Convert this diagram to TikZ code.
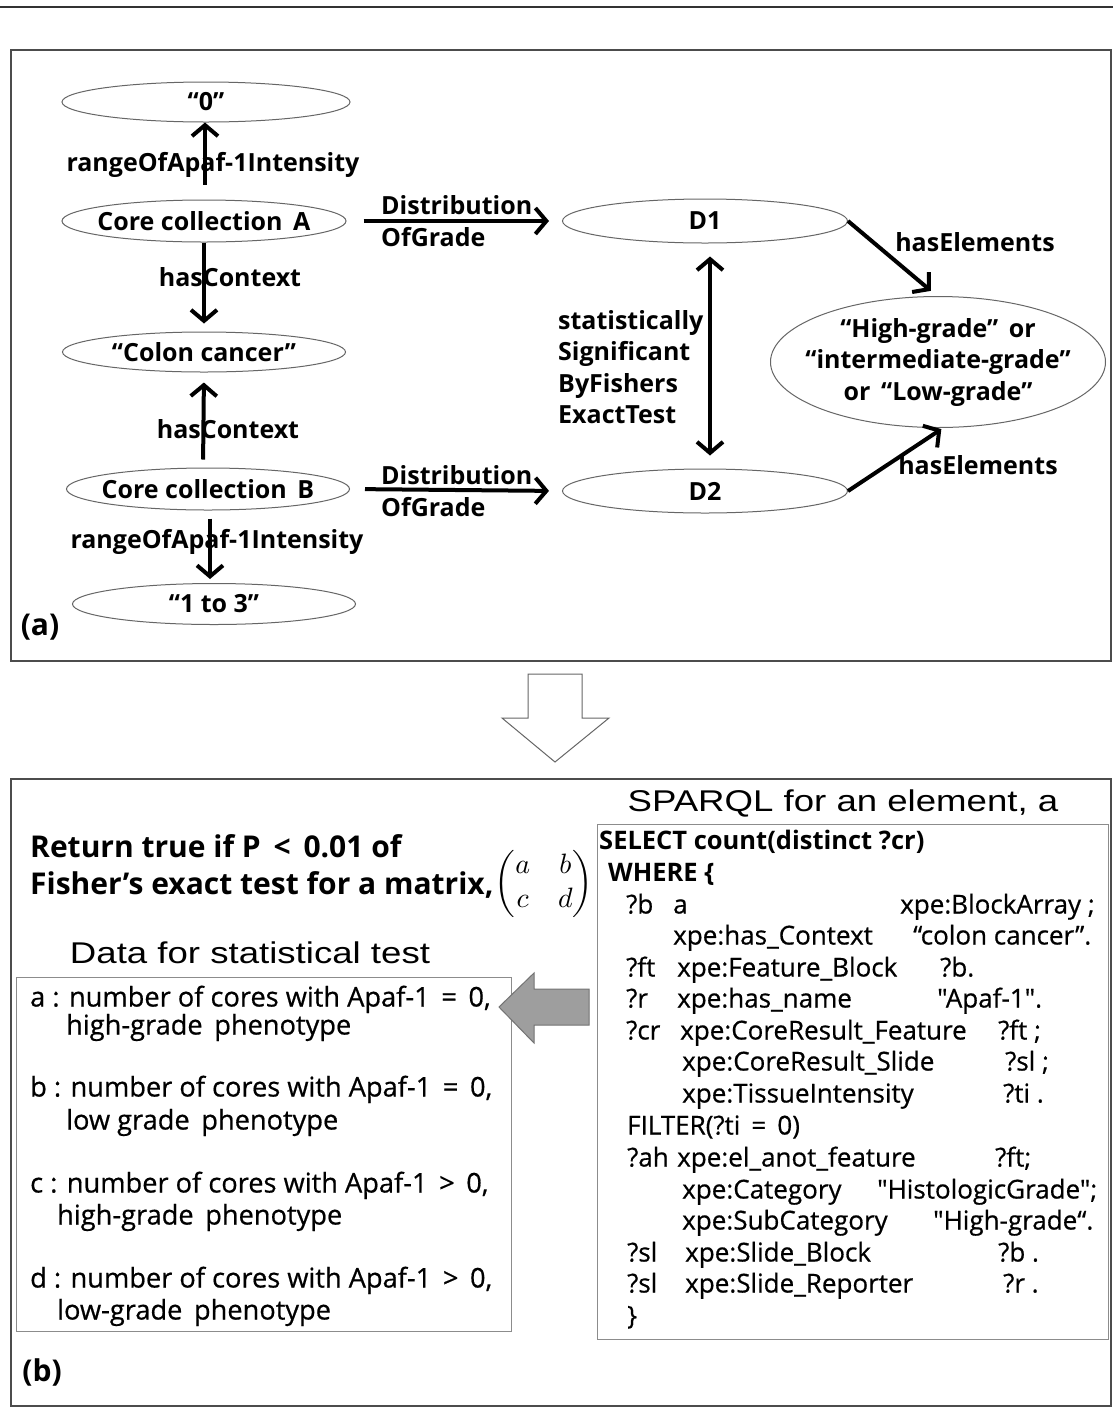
\documentclass[tikz,border=0pt]{standalone}
\usepackage{amsmath}
\usepackage{fontspec}
\setmainfont{Open Sans}
\newfontfamily\thinfont{Liberation Sans}[FakeStretch=1.22]
\newfontfamily\medfont{Open Sans}[FakeBold=0.6]
\usetikzlibrary{arrows.meta,shapes.geometric}
\newcommand\myfs{\fontsize{25}{31.5}\selectfont}
\newcommand\sqfs{\fontsize{26}{31.5}\selectfont}
\newcommand\mybig{\fontsize{30}{37}\selectfont}
\newcommand\qd{\symbol{34}}
\begin{document}
\begin{tikzpicture}[x=1pt,y=-1pt,
  ell/.style={ellipse,draw=black!60,line width=1pt,inner sep=0pt},
  etx/.style={inner sep=0pt,font=\bfseries\myfs,align=center},
  lab/.style={inner sep=0pt,font=\bfseries\myfs,text height=18pt,text depth=6pt},
  arr/.style={line width=4pt,-{Straight Barb[length=11pt,width=26pt,line width=4pt]}},
  darr/.style={line width=4pt,{Straight Barb[length=11pt,width=26pt,line width=4pt]}-{Straight Barb[length=11pt,width=26pt,line width=4pt]}},
  panel/.style={draw=black!70,line width=1.2pt},
  gbox/.style={draw=black!45,line width=1pt},
  dtx/.style={inner sep=0pt,anchor=west,font=\medfont\fontsize{27.2}{31}\selectfont,text height=19pt,text depth=6pt},
  sq/.style={inner sep=0pt,anchor=west,font=\medfont\sqfs,text height=19pt,text depth=6pt},
  ttl/.style={inner sep=0pt,font=\thinfont\fontsize{30}{36}\selectfont}
]
\useasboundingbox (0,0) rectangle (1113,1409);
\fill[white] (0,0) rectangle (1113,1409);
% top rule
\draw[line width=2.5pt,black!80] (0,7) -- (1113,7);
% panels
\draw[panel] (11,50) rectangle (1111,661);
\draw[panel] (11,779) rectangle (1111,1406);

% ---------- panel (a) ----------
\node[ell,minimum width=288pt,minimum height=40pt] (zero) at (206,102) {};
\node[ell,minimum width=284pt,minimum height=42pt] (A) at (204,221) {};
\node[ell,minimum width=283pt,minimum height=40pt] (colon) at (204,352) {};
\node[ell,minimum width=283pt,minimum height=42pt] (B) at (208,489) {};
\node[ell,minimum width=283pt,minimum height=41pt] (r13) at (214,604) {};
\node[ell,minimum width=285pt,minimum height=44pt] (D1) at (705,221) {};
\node[ell,minimum width=285pt,minimum height=44pt] (D2) at (705,491) {};
\node[ell,minimum width=335pt,minimum height=131pt] (HG) at (938,362) {};

\node[etx] (tzero) at (zero) {“0”};
\node[etx] (tA) at (A) {Core collection\, A};
\node[etx] (tcolon) at (colon) {“Colon cancer”};
\node[etx] (tB) at (B) {Core collection\, B};
\node[etx] (tr13) at (r13) {“1 to 3”};
\node[etx] (tD1) at (D1) {D1};
\node[etx] (tD2) at (D2) {D2};
\node[etx] (tHG) at (HG) {“High-grade”\, or\\ “intermediate-grade”\\ or\, “Low-grade”};

\node[lab] (l1) at (213,165) {rangeOfApaf-1Intensity};
\node[lab] (l2) at (230,280) {hasContext};
\node[lab] (l3) at (228,432) {hasContext};
\node[lab] (l4) at (217,542) {rangeOfApaf-1Intensity};
\node[lab,align=left,anchor=west,text height=,text depth=] (l5) at (381,221) {Distribution\\OfGrade};
\node[lab,align=left,anchor=west,text height=,text depth=] (l6) at (381,491) {Distribution\\OfGrade};
\node[lab,align=left,anchor=west,text height=,text depth=] (l7) at (558,367) {statistically\\Significant\\ByFishers\\ExactTest};
\node[lab] (l8) at (975,245) {hasElements};
\node[lab] (l9) at (978,468) {hasElements};
\node[inner sep=0pt,font=\bfseries\mybig] (pa) at (40,627) {(a)};

\draw[arr,shorten <=15pt] ([xshift=1pt]A.north) -- ([xshift=-1pt]zero.south);
\draw[arr,shorten >=8pt] (A.south) -- (colon.north);
\draw[arr,shorten <=8pt,shorten >=10pt] ([xshift=-5pt]B.north) -- (colon.south);
\draw[arr,shorten <=8pt,shorten >=4pt] ([xshift=2pt]B.south) -- ([xshift=-4pt]r13.north);
\draw[arr,shorten <=17pt,shorten >=13pt] (A.east) -- (D1.west);
\draw[arr,shorten <=15pt,shorten >=13pt] (B.east) -- (D2.west);
\draw[darr,shorten <=13pt,shorten >=13pt] ([xshift=5pt]D1.south) -- ([xshift=5pt]D2.north);
\draw[arr,shorten >=8pt] (D1.east) -- ([xshift=-1pt]HG.north);
\draw[arr,shorten >=2pt] (D2.east) -- ([xshift=5pt]HG.south);

% down block arrow
\draw[black!60,line width=1pt,line join=miter] (528,674) -- (582,674) -- (582,718) -- (609,718) -- (555,762) -- (502,718) -- (528,718) -- cycle;

% ---------- panel (b) ----------
\node[inner sep=0pt,anchor=west,align=left,font=\bfseries\fontsize{30}{37}\selectfont] (ret) at (30,866)
  {Return true if P \,<\, 0.01 of\\Fisher’s exact test for a matrix,};
\node[inner sep=0pt,scale=2.8] (mat) at (544,884) {$\begin{pmatrix} a & b\\ c & d\end{pmatrix}$};

\node[ttl] (dt) at (250,953) {Data for statistical test};
\node[ttl] (st) at (843,803) {SPARQL for an element, a};

\draw[gbox] (16,977) rectangle (511,1331);
\draw[gbox] (597,824) rectangle (1108,1339);

% gray arrow
\draw[fill=black!38,draw=black!55,line width=1pt] (499,1007) -- (534,973) -- (534,989) -- (589,989) -- (589,1025) -- (534,1025) -- (534,1043) -- cycle;

\node[dtx] (da1) at (30,1000) {a : number of cores with Apaf-1 \,=\, 0,};
\node[dtx] (da2) at (66,1028) {high-grade\, phenotype};
\node[dtx] (db1) at (30,1090) {b : number of cores with Apaf-1 \,=\, 0,};
\node[dtx] (db2) at (66,1123) {low grade\, phenotype};
\node[dtx] (dc1) at (30,1186) {c : number of cores with Apaf-1 \,>\, 0,};
\node[dtx] (dc2) at (57,1218) {high-grade\, phenotype};
\node[dtx] (dd1) at (30,1281) {d : number of cores with Apaf-1 \,>\, 0,};
\node[dtx] (dd2) at (57,1313) {low-grade\, phenotype};

\node[inner sep=0pt,font=\bfseries\mybig] (pb) at (42,1372) {(b)};

% SPARQL
\node[sq,font=\bfseries\fontsize{25.5}{31}\selectfont] (s1) at (599,843) {SELECT count(distinct ?cr)};
\node[sq,font=\bfseries\fontsize{25.5}{31}\selectfont] (s2) at (608,875) {WHERE \{};
\node[sq] (s3a) at (626,907) {?b};
\node[sq] (s3b) at (673,907) {a};
\node[sq] (s3c) at (900,907) {xpe:BlockArray ;};
\node[sq] (s4b) at (673,938) {xpe:has\_Context};
\node[sq] (s4c) at (913,938) {“colon cancer”.};
\node[sq] (s5a) at (626,970) {?ft};
\node[sq] (s5b) at (677,970) {xpe:Feature\_Block};
\node[sq] (s5c) at (940,970) {?b.};
\node[sq] (s6a) at (626,1001) {?r};
\node[sq] (s6b) at (677,1001) {xpe:has\_name};
\node[sq] (s6c) at (937,1001) {\qd Apaf-1\qd.};
\node[sq] (s7a) at (626,1033) {?cr};
\node[sq] (s7b) at (680,1033) {xpe:CoreResult\_Feature};
\node[sq] (s7c) at (998,1033) {?ft ;};
\node[sq] (s8b) at (682,1064) {xpe:CoreResult\_Slide};
\node[sq] (s8c) at (1005,1064) {?sl ;};
\node[sq] (s9b) at (682,1096) {xpe:TissueIntensity};
\node[sq] (s9c) at (1003,1096) {?ti .};
\node[sq] (s10) at (627,1128) {FILTER(?ti \,=\, 0)};
\node[sq] (s11a) at (627,1160) {?ah};
\node[sq] (s11b) at (677,1160) {xpe:el\_anot\_feature};
\node[sq] (s11c) at (995,1160) {?ft;};
\node[sq] (s12b) at (682,1192) {xpe:Category};
\node[sq] (s12c) at (877,1192) {\qd HistologicGrade\qd;};
\node[sq] (s13b) at (682,1223) {xpe:SubCategory};
\node[sq] (s13c) at (933,1223) {\qd High-grade“.};
\node[sq] (s14a) at (627,1255) {?sl};
\node[sq] (s14b) at (685,1255) {xpe:Slide\_Block};
\node[sq] (s14c) at (998,1255) {?b .};
\node[sq] (s15a) at (627,1286) {?sl};
\node[sq] (s15b) at (685,1286) {xpe:Slide\_Reporter};
\node[sq] (s15c) at (1003,1286) {?r .};
\node[sq] (s16) at (627,1318) {\}};
\end{tikzpicture}
\end{document}
